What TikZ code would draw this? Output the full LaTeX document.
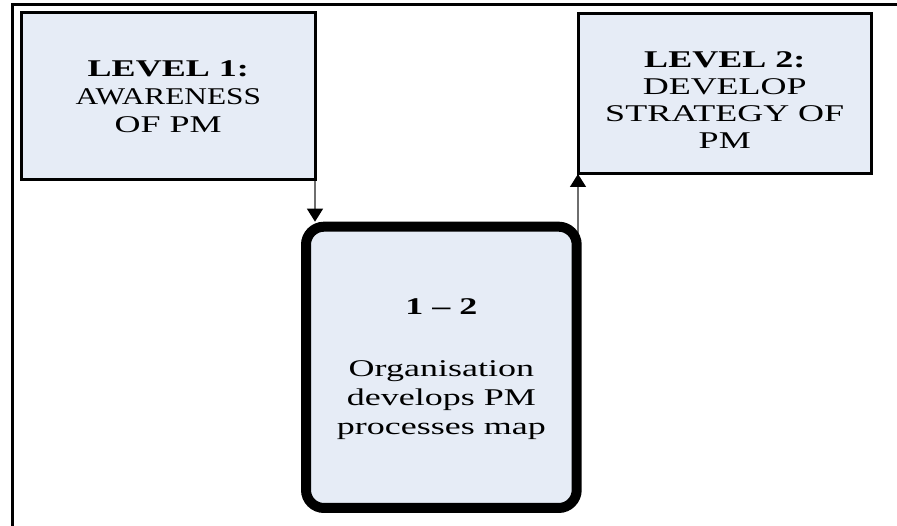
\documentclass[tikz,border=0pt]{standalone}
\usepackage{fontspec}
\setmainfont{Liberation Serif}[FakeStretch=1.5]
\usetikzlibrary{arrows.meta,backgrounds,calc}
\definecolor{boxfill}{RGB}{230,236,246}
\definecolor{linkgray}{RGB}{110,110,110}
\tikzset{
  levelbox/.style={draw=black, line width=3pt, fill=boxfill, inner sep=0pt,
    outer sep=0pt, align=center, font=\fontsize{24}{28}\selectfont},
  stagebox/.style={draw=black, line width=10pt, rounded corners=18pt,
    fill=boxfill, inner sep=0pt, outer sep=5pt, align=center,
    font=\fontsize{24}{29}\selectfont},
  link/.style={draw=linkgray, line width=1.3pt,
    -{Triangle[width=16pt,length=13pt,color=black]}},
  frameline/.style={line width=3pt, line join=miter}
}
\begin{document}
\begin{tikzpicture}[x=1pt,y=1pt]
\useasboundingbox (0,0) rectangle (897,526);

% open frame: left and top rules
\coordinate (fbottom) at (12.5,0);
\coordinate (fcorner) at (12.5,521);
\coordinate (fright) at (897,521);
\draw[frameline] (fbottom) -- (fcorner) -- (fright);

% the two levels
\node[levelbox, minimum width=293.5pt, minimum height=167.5pt] (lvl1)
  at (168.25,429.75)
  {\textbf{LEVEL 1:}\\\scalebox{0.87}[1]{AWARENESS}\\OF PM};
\node[levelbox, minimum width=293.5pt, minimum height=160.5pt,
      font=\fontsize{24}{27}\selectfont] (lvl2)
  at (724.75,432.25)
  {\rule{0pt}{28pt}\textbf{LEVEL 2:}\\DEVELOP\\STRATEGY OF\\PM};

% transition stage between the levels
\node[stagebox, minimum width=270.7pt, minimum height=281.3pt] (stage)
  at (441.35,158.65)
  {\rule{0pt}{20pt}\textbf{1 – 2}\\[33pt]Organisation\\develops PM\\processes map};

% connectors
\begin{scope}[on background layer]
  \draw[link] (lvl1.south east) -- (lvl1.south east |- stage.north);
  \draw[link] ($(stage.north -| lvl2.south west)+(0,-12)$) -- (lvl2.south west);
\end{scope}
\end{tikzpicture}
\end{document}
